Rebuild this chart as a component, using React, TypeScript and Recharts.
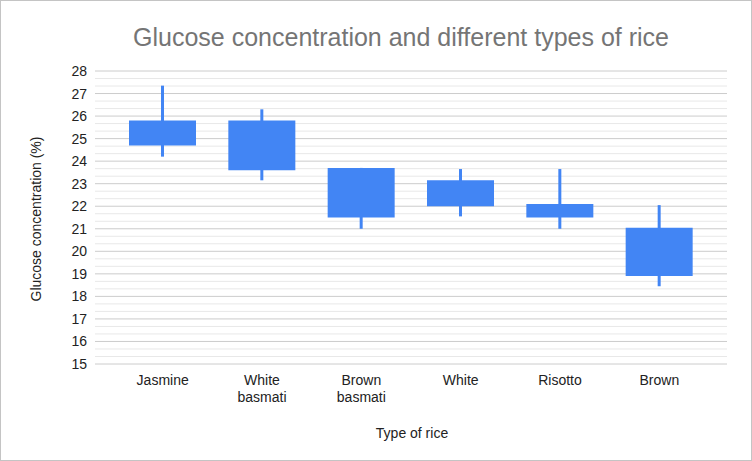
import React from "react";
import {
  ComposedChart, Bar, XAxis, YAxis, CartesianGrid,
} from "recharts";

const categories = ["Jasmine", "White\nbasmati", "Brown\nbasmati", "White", "Risotto", "Brown"];
const lowValues = [24.2, 23.15, 21.0, 21.55, 21.0, 18.45];
const q1Values = [24.7, 23.6, 21.5, 22.0, 21.5, 18.9];
const q3Values = [25.8, 25.8, 23.7, 23.15, 22.1, 21.05];
const highValues = [27.35, 26.3, 23.7, 23.65, 23.65, 22.05];
const yTicks = [15, 16, 17, 18, 19, 20, 21, 22, 23, 24, 25, 26, 27, 28];

// minor lines, three steps per unit; only whole numbers get a label
const gridTicks = yTicks.slice(0, -1)
  .flatMap((t) => [t, t + 1 / 3, t + 2 / 3])
  .concat(yTicks[yTicks.length - 1]);

const BLUE = "#4285F4";
const FONT = "'Liberation Sans', Arial, sans-serif";

const data = categories.map((name, i) => ({
  name,
  box: [q1Values[i], q3Values[i]],
  wick: [lowValues[i], highValues[i]],
}));

function CategoryTick({ x, y, payload }: any) {
  const lines = String(payload.value).split("\n");
  return (
    <text x={x} y={y} textAnchor="middle" fill="#222" fontSize={14} fontFamily={FONT}>
      {lines.map((l, i) => (
        <tspan key={i} x={x} dy={i === 0 ? 13 : 17}>{l}</tspan>
      ))}
    </text>
  );
}

function ValueTick({ x, y, payload }: any) {
  if (!yTicks.includes(payload.value)) return <g />;
  return (
    <text x={x} y={y} dy={5} textAnchor="end" fill="#222" fontSize={14} fontFamily={FONT}>
      {payload.value}
    </text>
  );
}

function GridLine(props: any) {
  const major = props.index % 3 === 0;
  return (
    <line
      x1={props.x1} y1={props.y1} x2={props.x2} y2={props.y2}
      stroke={major ? "#cccccc" : "#e8e8e8"} strokeWidth={1}
    />
  );
}

export default function App() {
  return (
    <div style={{
      position: "absolute", left: 0, top: 0, width: 752, height: 461,
      boxSizing: "border-box", border: "1px solid #c4c4c4", background: "#fff",
      fontFamily: FONT,
    }}>
      <div style={{
        position: "absolute", left: 0, top: 20, width: 800, textAlign: "center",
        fontSize: 25, color: "#757575", lineHeight: "32px",
      }}>
        Glucose concentration and different types of rice
      </div>
      <div style={{
        position: "absolute", left: 35, top: 218, transform: "translate(-50%, -50%) rotate(-90deg)",
        fontSize: 14, color: "#222", whiteSpace: "nowrap",
      }}>
        Glucose concentration (%)
      </div>
      <div style={{
        position: "absolute", left: 411, top: 432, transform: "translate(-50%, -50%)",
        fontSize: 14, color: "#222", whiteSpace: "nowrap",
      }}>
        Type of rice
      </div>
      <div style={{ position: "absolute", left: -1, top: -1 }}>
        <ComposedChart
          width={752}
          height={461}
          data={data}
          margin={{ top: 71, right: 25, bottom: 0, left: 0 }}
        >
          <CartesianGrid xAxisId="box" vertical={false} horizontal={GridLine} />
          <XAxis
            xAxisId="box"
            dataKey="name"
            height={97}
            axisLine={false}
            tickLine={false}
            interval={0}
            padding={{ left: 18, right: 18 }}
            tick={<CategoryTick />}
          />
          <XAxis xAxisId="wick" dataKey="name" hide padding={{ left: 18, right: 18 }} />
          <YAxis
            type="number"
            width={95}
            domain={[15, 28]}
            ticks={gridTicks}
            interval={0}
            axisLine={false}
            tickLine={false}
            tick={<ValueTick />}
          />
          <Bar xAxisId="wick" dataKey="wick" barSize={3} fill={BLUE} isAnimationActive={false} />
          <Bar xAxisId="box" dataKey="box" barSize={67} fill={BLUE} isAnimationActive={false} />
        </ComposedChart>
      </div>
    </div>
  );
}
